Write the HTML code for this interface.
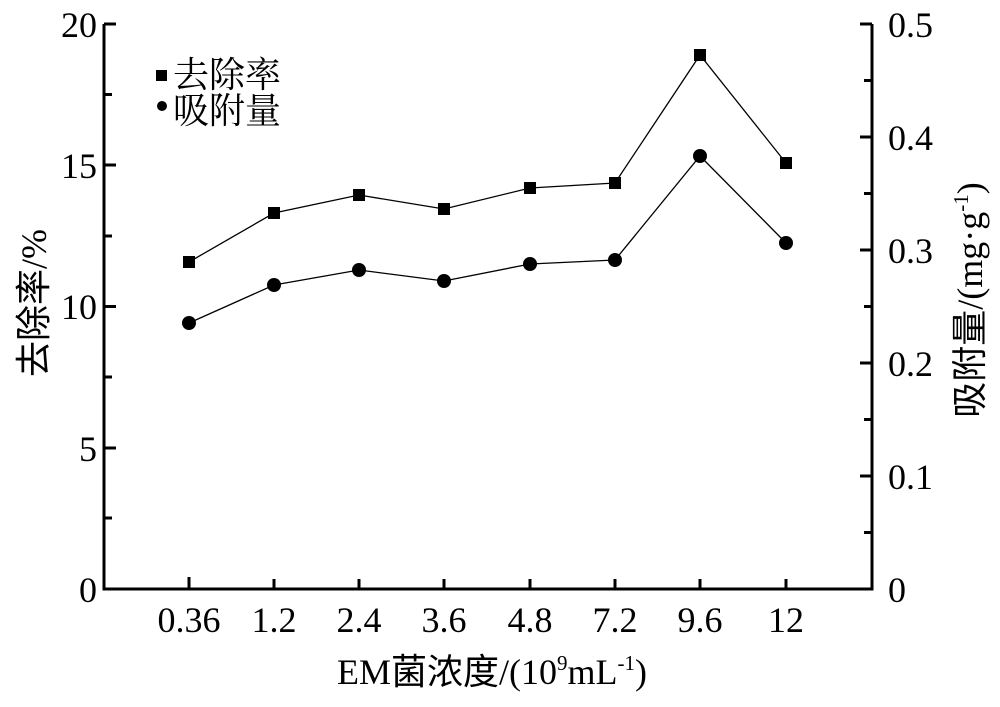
<!DOCTYPE html>
<html><head><meta charset="utf-8"><style>
body{margin:0;background:#fff}
svg text{font-family:"Liberation Serif","Noto Serif CJK SC",serif;fill:#000}
</style></head><body>
<svg width="1000" height="702" xmlns="http://www.w3.org/2000/svg">
<g stroke="#000" stroke-width="3" fill="none">
<polyline points="104,24 104,589 872,589 872,24"/>
<line x1="104" y1="24" x2="116" y2="24"/><line x1="104" y1="165" x2="116" y2="165"/>
<line x1="104" y1="306.5" x2="116" y2="306.5"/><line x1="104" y1="448" x2="116" y2="448"/>
<line x1="104" y1="94.5" x2="112" y2="94.5"/><line x1="104" y1="236" x2="112" y2="236"/>
<line x1="104" y1="377" x2="112" y2="377"/><line x1="104" y1="518" x2="112" y2="518"/>
<line x1="872" y1="24" x2="860" y2="24"/><line x1="872" y1="137" x2="860" y2="137"/>
<line x1="872" y1="250" x2="860" y2="250"/><line x1="872" y1="363" x2="860" y2="363"/>
<line x1="872" y1="476" x2="860" y2="476"/>
<line x1="872" y1="80.5" x2="864" y2="80.5"/><line x1="872" y1="193.5" x2="864" y2="193.5"/>
<line x1="872" y1="306.5" x2="864" y2="306.5"/><line x1="872" y1="419.5" x2="864" y2="419.5"/>
<line x1="872" y1="532.5" x2="864" y2="532.5"/>
<line x1="189" y1="589" x2="189" y2="577"/><line x1="274" y1="589" x2="274" y2="579"/>
<line x1="359" y1="589" x2="359" y2="579"/><line x1="444" y1="589" x2="444" y2="579"/>
<line x1="530" y1="589" x2="530" y2="579"/><line x1="615" y1="589" x2="615" y2="579"/>
<line x1="700" y1="589" x2="700" y2="579"/><line x1="786" y1="589" x2="786" y2="579"/>
</g>
<g stroke="#000" stroke-width="1.3" fill="none">
<polyline points="189,262 274,213 359,195 444,209 530,188 615,183 700,55 786,163"/>
<polyline points="189,323 274,285 359,270 444,281 530,264 615,260 700,156 786,243"/>
</g>
<g fill="#000">
<rect x="183" y="256" width="12" height="12"/><rect x="268" y="207" width="12" height="12"/>
<rect x="353" y="189" width="12" height="12"/><rect x="438" y="203" width="12" height="12"/>
<rect x="524" y="182" width="12" height="12"/><rect x="609" y="177" width="12" height="12"/>
<rect x="694" y="49" width="12" height="12"/><rect x="780" y="157" width="12" height="12"/>
<circle cx="189" cy="323" r="7"/><circle cx="274" cy="285" r="7"/><circle cx="359" cy="270" r="7"/>
<circle cx="444" cy="281" r="7"/><circle cx="530" cy="264" r="7"/><circle cx="615" cy="260" r="7"/>
<circle cx="700" cy="156" r="7"/><circle cx="786" cy="243" r="7"/>
<rect x="156" y="70" width="11" height="11"/><circle cx="162" cy="106" r="5"/>
</g>
<g font-size="36" text-anchor="end">
<text x="97" y="37">20</text><text x="97" y="178">15</text><text x="97" y="319">10</text>
<text x="97" y="461">5</text><text x="97" y="602">0</text>
</g>
<g font-size="36" text-anchor="start">
<text x="888" y="37">0.5</text><text x="888" y="150">0.4</text><text x="888" y="263">0.3</text>
<text x="888" y="376">0.2</text><text x="888" y="489">0.1</text><text x="888" y="602">0</text>
</g>
<g font-size="36" text-anchor="middle">
<text x="189" y="632">0.36</text><text x="274" y="632">1.2</text><text x="359" y="632">2.4</text>
<text x="444" y="632">3.6</text><text x="530" y="632">4.8</text><text x="615" y="632">7.2</text>
<text x="700" y="632">9.6</text><text x="786" y="632">12</text>
</g>
<text x="173" y="87" font-size="36" font-family="Noto Sans CJK SC,sans-serif">去除率</text>
<text x="173" y="123" font-size="36" font-family="Noto Sans CJK SC,sans-serif">吸附量</text>
<text x="492" y="684" font-size="36" text-anchor="middle">EM<tspan font-family="Noto Sans CJK SC,sans-serif">菌浓度</tspan>/(10<tspan font-size="21" dy="-14">9</tspan><tspan dy="14">mL</tspan><tspan font-size="21" dy="-14">-1</tspan><tspan dy="14">)</tspan></text>
<text transform="translate(46,303) rotate(-90)" font-size="36" text-anchor="middle"><tspan font-family="Noto Sans CJK SC,sans-serif">去除率</tspan>/%</text>
<text transform="translate(982,300) rotate(-90)" font-size="36" text-anchor="middle"><tspan font-family="Noto Sans CJK SC,sans-serif">吸附量</tspan>/(mg·g<tspan font-size="21" dy="-14">-1</tspan><tspan dy="14">)</tspan></text>
</svg>
</body></html>
